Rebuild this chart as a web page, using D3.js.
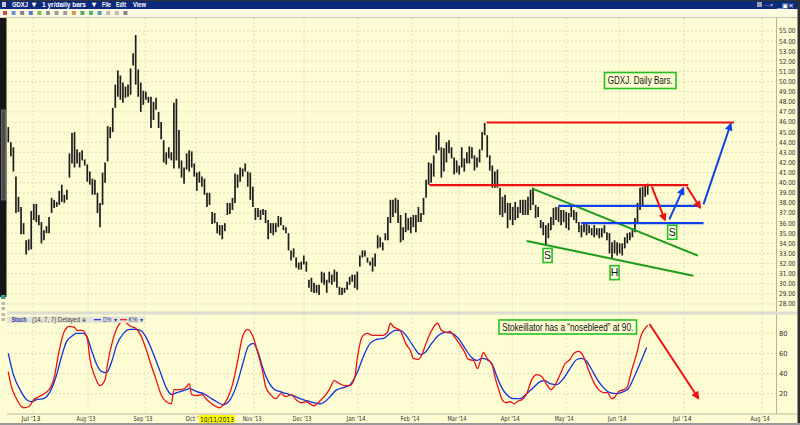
<!DOCTYPE html>
<html><head><meta charset="utf-8">
<script src="https://cdn.jsdelivr.net/npm/d3@7"></script>
<style>body{margin:0;background:#fff}svg{display:block}</style>
</head><body>
<script>
// GDXJ daily bars (high / low per session)
const hi = [45.5,44.0,43.5,40.6,38.6,37.6,36.0,34.3,34.4,37.2,
  37.9,37.9,36.8,36.1,35.3,35.7,36.6,38.5,38.3,38.1,
  39.2,39.8,38.8,39.3,42.9,44.9,45.0,43.3,43.0,43.2,
  42.3,41.8,41.1,40.4,40.3,39.0,38.0,41.0,42.0,45.6,
  45.5,47.4,49.7,51.1,50.6,49.9,49.5,49.7,51.3,52.8,
  54.6,51.2,49.9,49.1,49.0,48.5,48.5,48.0,48.4,47.0,
  46.0,44.2,43.0,43.5,43.0,47.9,48.3,45.2,42.2,41.5,
  42.9,43.2,43.1,41.9,41.0,41.1,40.6,40.4,39.0,39.0,
  37.1,37.0,36.1,35.8,35.8,36.0,38.0,38.0,38.5,40.9,
  40.8,41.5,41.4,41.9,41.1,41.0,39.6,37.5,37.5,37.3,
  37.4,37.3,36.3,
  36.0,36.0,36.0,36.7,36.6,35.8,35.6,35.0,33.3,33.5,
  32.6,32.1,32.2,32.8,32.2,30.4,30.6,30.1,29.9,29.9,
  31.2,31.1,30.4,31.2,30.9,31.4,31.2,29.7,29.6,29.6,
  30.2,30.7,30.9,30.9,31.2,32.8,33.3,33.3,32.6,32.2,
  32.6,33.0,34.8,34.6,34.1,35.0,36.6,38.3,38.3,38.5,
  38.3,36.8,35.6,37.0,36.5,36.6,36.8,36.8,37.6,37.0,
  38.5,40.3,42.0,41.9,42.7,44.7,45.0,43.5,43.4,44.0,
  44.2,43.5,42.5,42.2,41.7,43.5,42.4,43.0,43.6,43.5,
  42.7,42.5,43.3,45.0,45.9,44.7,42.7,41.7,41.1,41.3,
  39.5,38.6,38.8,38.0,38.0,37.6,38.1,37.6,38.3,38.3,
  38.3,38.6,
  39.3,39.5,37.8,37.6,36.3,36.1,35.8,36.0,36.6,37.5,
  37.6,37.6,37.3,37.3,37.1,37.0,37.8,37.3,37.1,36.1,
  35.8,36.0,36.0,35.8,35.5,35.8,35.5,35.5,35.5,35.8,
  35.1,35.0,34.1,34.3,34.1,34.0,34.0,34.6,35.0,35.1,
  35.5,36.5,38.0,39.5,39.6,39.8,39.9];
const lo = [44.0,42.6,41.1,37.0,37.1,34.9,34.9,32.9,33.3,33.4,
  36.3,36.1,35.8,34.0,34.3,35.0,35.0,37.0,37.5,37.6,
  37.8,38.1,38.0,38.3,40.5,41.9,41.5,41.9,41.5,42.2,
  41.7,40.1,39.8,38.8,38.8,37.0,35.6,37.8,40.0,42.1,
  44.4,45.0,47.4,48.5,48.2,47.9,48.4,48.5,48.7,51.6,
  49.7,48.5,47.0,47.7,48.2,47.9,45.4,46.2,47.2,45.4,
  44.3,42.0,41.8,42.4,42.2,41.4,42.2,41.4,40.5,39.9,
  41.3,41.1,41.5,40.6,39.2,40.0,39.6,38.8,37.6,37.8,
  35.9,36.0,35.0,34.8,34.4,35.2,36.8,36.9,37.3,38.0,
  39.5,40.1,40.6,41.1,39.6,38.3,37.6,36.3,36.6,36.3,
  36.8,36.0,34.4,
  35.0,34.8,35.1,35.6,35.8,35.3,35.0,33.3,32.3,32.6,
  31.6,31.4,31.4,31.9,31.2,29.6,29.2,29.1,29.1,28.9,
  30.1,29.9,29.1,30.1,29.9,30.2,29.6,28.9,28.9,29.1,
  29.4,29.9,30.2,29.6,29.4,31.7,32.6,32.7,32.1,31.8,
  31.2,31.7,33.5,33.6,33.3,34.3,34.3,36.0,36.6,37.0,
  36.0,34.1,34.3,35.1,35.3,35.0,35.6,35.1,36.1,36.1,
  36.8,38.5,39.8,40.0,40.6,42.9,43.2,40.5,41.1,42.0,
  42.9,42.4,40.8,41.0,40.8,41.5,41.1,41.9,41.9,42.4,
  41.2,41.5,42.0,43.2,44.7,42.5,41.2,39.5,39.5,39.5,
  36.8,36.6,37.0,35.5,36.3,35.8,36.3,36.5,37.0,36.8,
  36.8,36.8,
  37.3,37.8,36.5,36.6,35.5,34.8,33.8,34.5,35.3,35.8,
  36.3,36.1,35.8,36.1,35.5,35.3,36.6,36.3,36.0,35.1,
  34.6,35.1,34.8,35.0,34.8,34.6,34.8,34.5,34.6,35.0,
  34.3,33.0,32.5,33.0,32.8,33.0,32.8,33.5,34.0,34.3,
  34.6,35.1,36.0,37.3,37.6,38.6,38.8];

// Stochastics (14,7,7): [session index, value]
const kPts = [[0,42],[1,29],[3,16],[6,6],[8,7],[10,14],[12,17],[16,24],[18,36],[20,63],[22,82],[24,87],[26,86],[27,83],[29,83],
  [31,75],[32,55],[34,37],[36,28],[38,34],[39,50],[41,73],[43,87],[45,92],[47,89],[48,87],[50,85],[52,78],[54,65],[56,49],
  [58,34],[60,19],[62,12],[64,10],[65,24],[68,24],[70,27],[71,30],[72,19],[74,18],[76,19],[78,14],[81,8],[83,6],[84,8],
  [86,15],[88,29],[90,52],[92,77],[94,84],[96,77],[98,60],[100,40],[101,27],[103,19],[105,15],[107,20],[109,17],[111,19],
  [113,14],[115,11],[117,12],[119,9],[120,8],[122,12],[124,17],[126,24],[128,33],[130,30],[132,28],[134,28],[136,36],
  [137,55],[139,77],[141,80],[143,78],[145,78],[147,78],[149,82],[150,90],[151,87],[154,82],[156,70],[158,62],[159,55],
  [161,54],[162,57],[164,70],[166,82],[168.5,90],[170,83],[172,81],[173.4,82],[175,77],[177,70],[179,62],[180.6,54],
  [182.6,53],[184.2,45],[185.5,54],[186.5,61],[188,55],[190,48],[191,37],[192.4,25],[193.7,15],[195.4,11],[197,12],
  [198.6,10],[200.3,13],[201.6,14],[203.5,20],[205.5,34],[207.5,39],[209.4,37],[211.4,29],[213,24],[214.7,29],
  [216.6,39],[218.6,50],[220.5,54],[222,60],[223.8,62],[225.8,57],[227.7,44],[229.7,32],[231.7,24],[233.6,21],
  [235.2,21],[236.9,15],[238.2,17],[239.5,22],[241.5,24],[242.8,26],[244.8,44],[246.7,60],[248.3,77],[250,85],[251,88]];
const dPts = [[0,60],[2,39],[4.6,24],[7.2,14],[9.2,12],[11.1,14],[13.8,15],[16.4,22],[19,39],[20.9,57],[22.9,72],[24.9,77],
  [26.8,80],[29.5,80],[30.8,77],[32.7,63],[34.7,49],[36.7,42],[38.6,41],[40.6,52],[42.5,68],[45.2,80],[47.8,84],[50.4,84],
  [52.4,82],[54.3,75],[56.9,60],[59.6,42],[62.2,25],[64.1,19],[66.1,21],[68.7,23],[71.3,25],[74,22],[76.6,20],[79.2,16],
  [81.8,12],[84.4,9],[87.1,14],[89.7,29],[92.3,52],[94.2,67],[96.2,70],[98.2,60],[100.1,44],[102.1,32],[104.1,25],
  [106.7,22],[109.3,20],[111.9,18],[114.5,15],[117.2,13],[119.8,11],[122.4,10],[124.3,12],[126.3,17],[129,24],
  [131.5,26],[134.2,29],[136.8,40],[139.4,57],[142,70],[144.6,74],[147.3,75],[149.9,80],[151.8,83],[153.8,83],
  [156.4,77],[159,67],[161.7,59],[163.6,61],[166.2,70],[168.9,78],[171.5,81],[174.1,80],[176.7,75],[179.3,65],
  [181.9,56],[183.9,53],[185.9,55],[187.8,54],[189.8,50],[191.8,37],[193.7,26],[195.7,19],[198.3,15],[200.9,15],
  [203.5,20],[206.1,26],[208.8,32],[210.7,33],[212.7,30],[215.3,29],[217.9,35],[220.5,45],[223.2,54],[225.1,55],
  [227.1,52],[229,44],[231,35],[233.6,26],[236.2,21],[238.9,20],[241.5,22],[243.4,25],[245.4,35],[248,50],[250.6,66]];

const priceTicks = [28,29,30,31,32,33,34,35,36,37,38,39,40,41,42,43,44,45,46,47,48,49,50,51,52,53,54,55];
const stochTicks = [20,40,60,80];
// the Oct label is partly hidden by the highlighted 10/11/2013 date in the picture
const monthLabels = ["Jul '13","Aug '13","Sep '13","Oct '","Nov '13","Dec '13","Jan '14","Feb '14","Mar '14","Apr '14","May '14","Jun '14","Jul '14","Aug '14"];
const monthIdx = [9.7,31.3,53.7,73.7,96.5,116.1,137.3,158.5,176.9,197.8,219,239.8,265.3,295.9];

// hand-drawn annotations, in [session index, price]
const redLines = [[[187.8,45.95],[284.9,45.95]], [[165.3,39.75],[266.9,39.75]]];
const blueLines = [[[215.9,37.7],[270.9,37.7]], [[224.9,36.0],[272.9,36.0]]];
const greenLines = [[[205.5,39.44],[270.7,32.78]], [[203.5,34.23],[268.9,30.8]]];
const redArrows = [[[252.6,39.6],[257.8,36.3]], [[266.4,39.6],[271.6,37.52]]];
const blueArrows = [[[259.5,36.37],[265.0,39.44]], [[272.9,37.86],[283.6,45.8]]];
const patternLabels = [["S",211.7,32.8],["H",238.0,31.1],["S",260.6,35.1]];
const stochArrow = [[251.7,89.2],[270.9,15.4]];

const W = 800, H = 425, bg = "#fdfcd2";
const font = "'DejaVu Sans', Verdana, sans-serif";
const arial = "'Liberation Sans', Arial, sans-serif";

const x = d3.scaleLinear().domain([0, hi.length - 1]).range([8.3, 647.7]);
const y = d3.scaleLinear().domain([28, 55]).range([304, 31]);
const ys = d3.scaleLinear().domain([0, 100]).range([413.8, 313.2]);

const svg = d3.select("body").append("svg").attr("width", W).attr("height", H);
const defs = svg.append("defs");
defs.append("clipPath").attr("id", "cp").append("rect").attr("x", 7).attr("y", 18).attr("width", 769).attr("height", 293);
defs.append("clipPath").attr("id", "cs").append("rect").attr("x", 7).attr("y", 315).attr("width", 769).attr("height", 98);
[["ar", "#ee1111"], ["ab", "#1040e8"]].forEach(([id, c]) => {
  defs.append("marker").attr("id", id).attr("viewBox", "0 0 10 10")
    .attr("refX", 8).attr("refY", 5).attr("markerWidth", 9).attr("markerHeight", 8)
    .attr("markerUnits", "userSpaceOnUse").attr("orient", "auto")
    .append("path").attr("d", "M0,0L10,5L0,10z").attr("fill", c);
});

svg.append("rect").attr("width", W).attr("height", H).attr("fill", bg);

// window title bar + toolbar
svg.append("rect").attr("width", W).attr("height", 9).attr("fill", "#0b2a7c");
svg.append("rect").attr("width", W).attr("height", 1).attr("fill", "#333");
svg.append("rect").attr("y", 9).attr("width", W).attr("height", 8.5).attr("fill", "#fcfae0");
svg.append("line").attr("x1", 0).attr("x2", W).attr("y1", 17.5).attr("y2", 17.5).attr("stroke", "#c9c8b4");
svg.append("rect").attr("x", 2).attr("y", 2).attr("width", 4).attr("height", 5).attr("fill", "#c8c8d8");
const tb = [["GDXJ", 12, 16], ["\u25BE", 32, 4], ["1 yr/daily bars", 42, 44], ["\u25BE", 91.5, 4], ["File", 102, 9], ["Edit", 116, 10], ["View", 133, 13]];
tb.forEach(([t, tx, tl]) => svg.append("text").attr("x", tx).attr("y", 7.3).text(t)
  .attr("fill", "#fff").attr("font-family", arial).attr("font-size", 7.5).attr("font-weight", "bold")
  .attr("textLength", tl).attr("lengthAdjust", "spacingAndGlyphs"));
svg.append("rect").attr("x", 757).attr("y", 2).attr("width", 5).attr("height", 5).attr("fill", "#9aa0b8");
svg.append("text").attr("x", 764).attr("y", 7).text("\u2014\u25BE").attr("fill", "#9aa0b8").attr("font-size", 6).attr("font-family", font);
svg.append("text").attr("x", 777).attr("y", 7.5).text("\u2581\u25A3\u2715").attr("fill", "#fff").attr("font-size", 6.5).attr("font-family", font);
const icons = ["#d02020", "#5577cc", "#666", "#2255bb", "#55aa33", "#777", "#888", "#888", "#d08020", "#339944", "#22aa55", "#2288aa", "#aaa", "#aaa", "#667"];
icons.forEach((c, i) => svg.append("rect").attr("x", 3 + i * 8.6).attr("y", 11).attr("width", 4).attr("height", 4).attr("fill", c).attr("opacity", 0.8));

// left scroll strip and window frame
svg.append("rect").attr("x", 0).attr("y", 18).attr("width", 6.5).attr("height", 279).attr("fill", "#161616");
svg.append("rect").attr("x", 1.5).attr("y", 110).attr("width", 4).attr("height", 90).attr("fill", "#4b4b4b").attr("stroke", "#8a8a8a").attr("stroke-width", 0.6);
svg.append("rect").attr("x", 1).attr("y", 295).attr("width", 4.5).attr("height", 4).attr("fill", "#3a9a9a");
[302, 307, 313, 318].forEach(v => svg.append("rect").attr("x", 1.5).attr("y", v).attr("width", 3.5).attr("height", 3).attr("fill", "#b8b8b0"));
svg.append("rect").attr("x", 797.5).attr("y", 0).attr("width", 2.5).attr("height", H).attr("fill", "#2e2e2e");

// grid
const grid = svg.append("g");
grid.selectAll(".hp").data(priceTicks).join("line")
  .attr("x1", 7).attr("x2", 778).attr("y1", d => y(d)).attr("y2", d => y(d))
  .attr("stroke", "#d9d7b8").attr("stroke-width", 0.8).attr("stroke-dasharray", "2,2");
grid.selectAll(".hs").data(stochTicks).join("line")
  .attr("x1", 7).attr("x2", 778).attr("y1", d => ys(d)).attr("y2", d => ys(d))
  .attr("stroke", "#d9d7b8").attr("stroke-width", 0.8).attr("stroke-dasharray", "2,2");
grid.selectAll(".v").data(monthIdx).join("line")
  .attr("x1", d => x(d)).attr("x2", d => x(d)).attr("y1", 18).attr("y2", 413)
  .attr("stroke", "#d5dcc2").attr("stroke-width", 0.8).attr("stroke-dasharray", "2,2");

// panel frame lines
svg.append("line").attr("x1", 776.5).attr("x2", 776.5).attr("y1", 18).attr("y2", 414).attr("stroke", "#b4b4a0");
svg.append("rect").attr("x", 7).attr("y", 311.5).attr("width", 790).attr("height", 3).attr("fill", "#dcdcd0");
svg.append("line").attr("x1", 7).attr("x2", 797).attr("y1", 414).attr("y2", 414).attr("stroke", "#b8b8a8");
svg.append("rect").attr("x", 0).attr("y", 423).attr("width", W).attr("height", 2).attr("fill", "#9a9a9a");

// price axis labels
svg.selectAll(".pl").data(priceTicks).join("text")
  .attr("x", 779).attr("y", d => y(d) + 2.4).text(d => d.toFixed(2))
  .attr("font-family", font).attr("font-size", 6.8).attr("fill", "#333")
  .attr("textLength", 16.5).attr("lengthAdjust", "spacingAndGlyphs");
svg.selectAll(".sl").data(stochTicks).join("text")
  .attr("x", 779).attr("y", d => ys(d) + 2.4).text(d => d)
  .attr("font-family", font).attr("font-size", 6.8).attr("fill", "#333");

// date labels
svg.selectAll(".ml").data(monthLabels).join("text")
  .attr("x", (d, i) => x(monthIdx[i]) - (d.length < 6 ? 4 : 2)).attr("y", 421).attr("text-anchor", "middle").text(d => d)
  .attr("font-family", font).attr("font-size", 6.8).attr("fill", "#333")
  .attr("textLength", d => d.length < 6 ? 13 : 19).attr("lengthAdjust", "spacingAndGlyphs");
svg.append("rect").attr("x", 199).attr("y", 415).attr("width", 36).attr("height", 8).attr("fill", "#ffff00");
svg.append("text").attr("x", 217).attr("y", 421.5).attr("text-anchor", "middle").text("10/11/2013")
  .attr("font-family", font).attr("font-size", 6.8).attr("fill", "#222")
  .attr("textLength", 34).attr("lengthAdjust", "spacingAndGlyphs");

// price bars
const pg = svg.append("g").attr("clip-path", "url(#cp)");
pg.selectAll(".bar").data(hi).join("line")
  .attr("x1", (d, i) => x(i)).attr("x2", (d, i) => x(i))
  .attr("y1", d => y(d)).attr("y2", (d, i) => y(lo[i]))
  .attr("stroke", "#1e1e1e").attr("stroke-width", 1.7);

const pt = p => [x(p[0]), y(p[1])];
const seg = (g, pts, c, w, m) => {
  const l = g.append("line").attr("x1", pt(pts[0])[0]).attr("y1", pt(pts[0])[1])
    .attr("x2", pt(pts[1])[0]).attr("y2", pt(pts[1])[1]).attr("stroke", c).attr("stroke-width", w);
  if (m) l.attr("marker-end", `url(#${m})`);
};
const ann = svg.append("g");
greenLines.forEach(s => seg(ann, s, "#1c9c1c", 2, null));
redLines.forEach(s => seg(ann, s, "#ee1111", 2.2, null));
blueLines.forEach(s => seg(ann, s, "#1040e8", 2.2, null));
redArrows.forEach(s => seg(ann, s, "#ee1111", 2, "ar"));
blueArrows.forEach(s => seg(ann, s, "#1040e8", 2, "ab"));

patternLabels.forEach(([t, i, p]) => {
  ann.append("rect").attr("x", x(i) - 4.5).attr("y", y(p) - 7).attr("width", 9).attr("height", 14)
    .attr("fill", "#fdfde8").attr("stroke", "#22c022").attr("stroke-width", 1.6);
  ann.append("text").attr("x", x(i)).attr("y", y(p) + 3.8).attr("text-anchor", "middle").text(t)
    .attr("font-family", arial).attr("font-size", 10.5).attr("fill", "#111");
});

// note boxes
const note = (bx, by, bw, bh, t, tl) => {
  svg.append("rect").attr("x", bx).attr("y", by).attr("width", bw).attr("height", bh)
    .attr("fill", bg).attr("stroke", "#22c022").attr("stroke-width", 1.6);
  svg.append("text").attr("x", bx + bw / 2).attr("y", by + bh / 2 + 3.7).attr("text-anchor", "middle").text(t)
    .attr("font-family", arial).attr("font-size", 10.5).attr("fill", "#111")
    .attr("textLength", tl).attr("lengthAdjust", "spacingAndGlyphs");
};
note(604.5, 72.5, 71.5, 16, "GDXJ. Daily Bars.", 65);
note(499, 320, 137.5, 14, "Stokeillator has a \u201Cnosebleed\u201D at 90.", 131);

// stochastics
const sg = svg.append("g").attr("clip-path", "url(#cs)");
const line = d3.line().x(d => x(d[0])).y(d => ys(d[1])).curve(d3.curveMonotoneX);
sg.append("path").attr("d", line(dPts)).attr("fill", "none").attr("stroke", "#1133dd").attr("stroke-width", 1.3);
sg.append("path").attr("d", line(kPts)).attr("fill", "none").attr("stroke", "#ee1111").attr("stroke-width", 1.3);

svg.append("line")
  .attr("x1", x(stochArrow[0][0])).attr("y1", ys(stochArrow[0][1]))
  .attr("x2", x(stochArrow[1][0])).attr("y2", ys(stochArrow[1][1]))
  .attr("stroke", "#ee1111").attr("stroke-width", 2).attr("marker-end", "url(#ar)");

// stoch legend strip
const lg = svg.append("g");
lg.append("rect").attr("x", 7).attr("y", 316.5).attr("width", 138).attr("height", 6.5).attr("fill", "#e4e4d6");
const lt = (t, tx, c, tl, bold) => lg.append("text").attr("x", tx).attr("y", 321.8).text(t)
  .attr("font-family", arial).attr("font-size", 6.3).attr("fill", c).attr("font-weight", bold ? "bold" : "normal")
  .attr("textLength", tl).attr("lengthAdjust", "spacingAndGlyphs");
lt("Stoch", 11.5, "#1a3a9a", 15, true);
lt("(14, 7, 7) Delayed", 32, "#444", 48, false);
lt("\u2295", 82, "#444", 4, false);
lg.append("line").attr("x1", 94).attr("x2", 101).attr("y1", 319.7).attr("y2", 319.7).attr("stroke", "#1133dd").attr("stroke-width", 1.2);
lt("D%", 103, "#1a3a9a", 8.5, false);
lt("\u25BE", 114, "#1a3a9a", 3, false);
lg.append("line").attr("x1", 120).attr("x2", 127).attr("y1", 319.7).attr("y2", 319.7).attr("stroke", "#ee1111").attr("stroke-width", 1.2);
lt("K%", 128.5, "#1a3a9a", 9, false);
lt("\u25BE", 140, "#1a3a9a", 3, false);
</script>
</body></html>
